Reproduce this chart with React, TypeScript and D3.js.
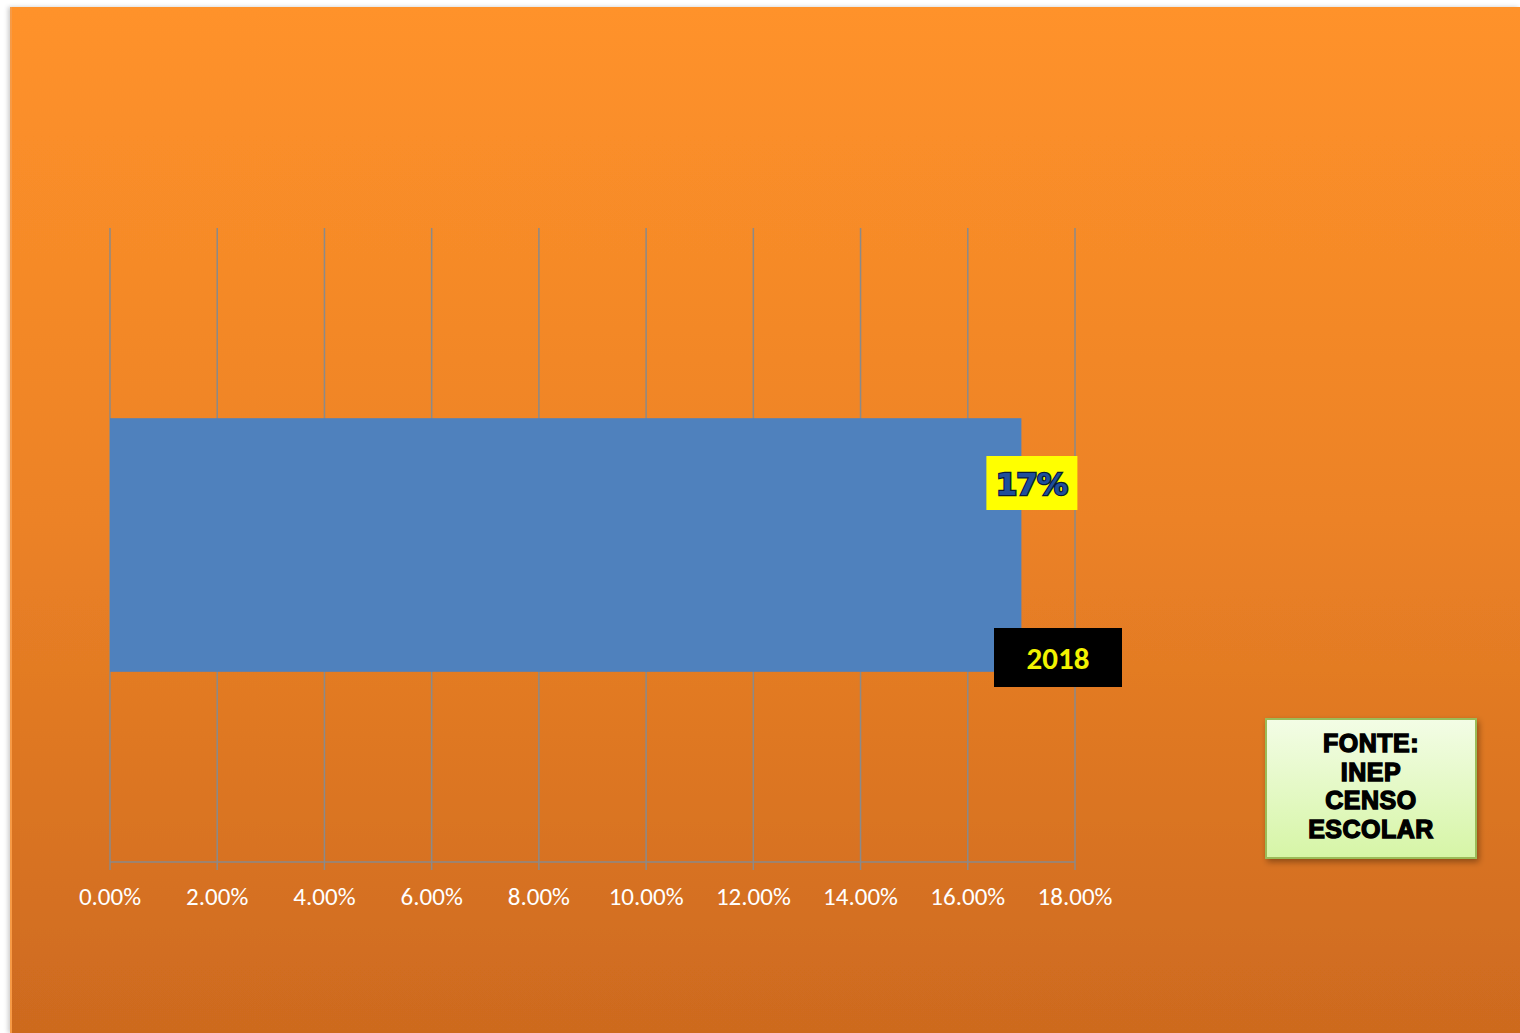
import React from "react";
import * as d3 from "d3";

const categories = ["2018"];
const values = [0.17];
const xTicks = [0, 0.02, 0.04, 0.06, 0.08, 0.1, 0.12, 0.14, 0.16, 0.18];
const sourceLines = ["FONTE:", "INEP", "CENSO", "ESCOLAR"];

export default function App() {
  const W = 1520, H = 1033;
  const x = d3.scaleLinear().domain([0, 0.18]).range([110, 1075]);
  const y = d3.scaleBand().domain(categories).range([228, 862]).paddingInner(0).paddingOuter(0.75);
  const fmt = d3.format(".2%");
  const plotTop = 228, plotBottom = 862;
  return (
    <svg width={W} height={H} style={{ position: "absolute", left: 0, top: 0 }}>
      <defs>
        <linearGradient id="bg" x1="0" y1="0" x2="0" y2="1">
          <stop offset="0" stopColor="#FF922A" />
          <stop offset="0.5" stopColor="#EC8226" />
          <stop offset="1" stopColor="#CD6A1F" />
        </linearGradient>
        <linearGradient id="src" x1="0" y1="0" x2="0" y2="1">
          <stop offset="0" stopColor="#F3FDE6" />
          <stop offset="1" stopColor="#D6F5A6" />
        </linearGradient>
        <filter id="shadow" x="-10%" y="-10%" width="130%" height="130%">
          <feDropShadow dx="2" dy="3" stdDeviation="3" floodColor="#000" floodOpacity="0.35" />
        </filter>
        <filter id="bgshadow" x="-5%" y="-5%" width="110%" height="110%">
          <feDropShadow dx="-2" dy="0" stdDeviation="2" floodColor="#000" floodOpacity="0.2" />
        </filter>
      </defs>
      <rect x={0} y={0} width={W} height={H} fill="#fff" />
      <rect x={10} y={7} width={W - 10} height={H - 7} fill="url(#bg)" filter="url(#bgshadow)" />
      <line x1={11} x2={11} y1={7} y2={H} stroke="#F79A45" strokeWidth={2} />
      {xTicks.map((t) => (
        <line key={t} x1={x(t)} x2={x(t)} y1={plotTop} y2={plotBottom + 8} stroke="#8A8A8A" strokeWidth={1.5} />
      ))}
      <line x1={x(0)} x2={x(0.18)} y1={plotBottom} y2={plotBottom} stroke="#8A8A8A" strokeWidth={1.5} />
      {categories.map((c, i) => (
        <rect key={c} x={x(0)} y={y(c)!} width={x(values[i]) - x(0)} height={y.bandwidth()} fill="#4F81BD" />
      ))}
      {xTicks.map((t) => (
        <text key={t} x={x(t)} y={905} textAnchor="middle" fill="#fff" fontFamily="Carlito, Lato, 'Open Sans', sans-serif" fontSize={25}>
          {fmt(t)}
        </text>
      ))}
      {categories.map((c, i) => {
        const lx = x(values[i]) + 10;
        return (
          <g key={c}>
            <rect x={lx - 45} y={456} width={91} height={54} fill="#FFFF00" />
            <text x={lx} y={495} textAnchor="middle" fontFamily="'DejaVu Sans', Arial, sans-serif" fontWeight="bold" fontSize={31}
              fill="#1F4E9A" stroke="#061A38" strokeWidth={2.5} paintOrder="stroke" letterSpacing={-1}>
              {Math.round(values[i] * 100)}%
            </text>
            <rect x={994} y={628} width={128} height={59} fill="#000" />
            <text x={1058} y={669} textAnchor="middle" fontFamily="Carlito, Lato, sans-serif" fontWeight="bold" fontSize={31} fill="#F2F200">
              {c}
            </text>
          </g>
        );
      })}
      <rect x={1266} y={719} width={210} height={139} fill="url(#src)" stroke="#9BBB59" strokeWidth={2} filter="url(#shadow)" />
      {sourceLines.map((l, i) => (
        <text key={l} x={1371} y={752 + i * 28.5} textAnchor="middle" fontFamily="'Liberation Sans', Arial, sans-serif" fontWeight="bold" fontSize={25} fill="#000" stroke="#000" strokeWidth={1.4} letterSpacing={0.5}>
          {l}
        </text>
      ))}
    </svg>
  );
}
